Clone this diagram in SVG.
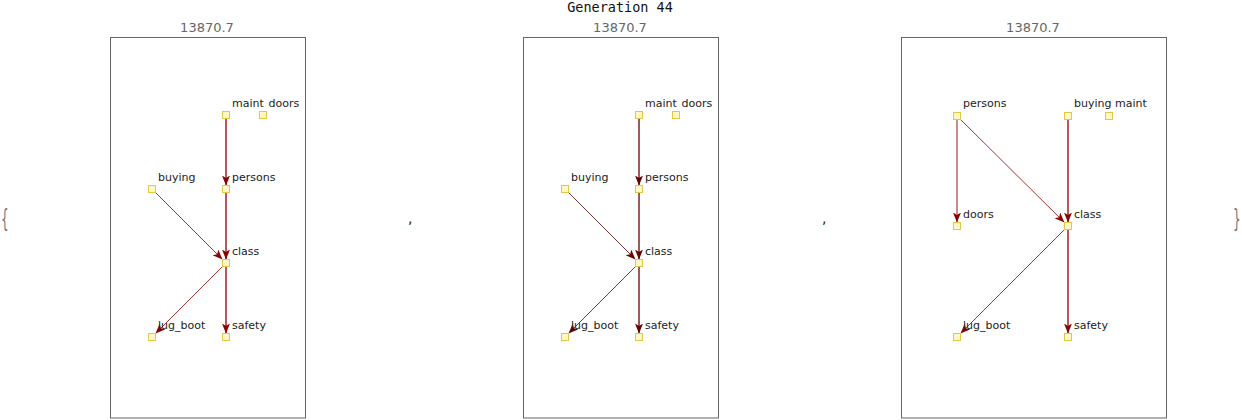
<svg xmlns="http://www.w3.org/2000/svg" width="1242" height="420" viewBox="0 0 1242 420">
<style>
.frame{fill:none;stroke:#666;stroke-width:1}
.node{fill:#fff8c4;stroke:#e2c84a;stroke-width:1}
.lbl{font-family:"DejaVu Sans",sans-serif;font-size:11px;fill:#222}
.score{font-family:"DejaVu Sans",sans-serif;font-size:13px;fill:#666;text-anchor:middle}
.title{font-family:"DejaVu Sans Mono",monospace;font-size:13.5px;fill:#111;text-anchor:middle}
.punct{font-family:"DejaVu Sans",sans-serif;font-size:14px;fill:#222}
.brace{font-family:"DejaVu Sans",sans-serif;font-size:24px;fill:#777}
.e1{stroke:#8b0000;stroke-width:1.3;fill:none}
.t1{stroke:#8b0000;stroke-width:0.8;fill:none}
.e2{stroke:#6a0000;stroke-width:1.3;fill:none}
.t2{stroke:#5a0000;stroke-width:0.8;fill:none}
.e3{stroke:#cc8c8c;stroke-width:2;fill:none}
</style>
<defs>
<marker id="a1" markerUnits="userSpaceOnUse" markerWidth="12" markerHeight="10" refX="10" refY="4" orient="auto"><path d="M0,0 L10,4 L0,8 L2.5,4 z" fill="#8b0000"/></marker>
<marker id="a2" markerUnits="userSpaceOnUse" markerWidth="12" markerHeight="10" refX="10" refY="4" orient="auto"><path d="M0,0 L10,4 L0,8 L2.5,4 z" fill="#6a0000"/></marker>
</defs>
<text class="title" x="620" y="12">Generation 44</text>
<text class="brace" x="0" y="227" transform="translate(1,0) scale(0.5,1)">{</text>
<text class="brace" x="0" y="227" transform="translate(1233,0) scale(0.5,1)">}</text>
<text class="punct" x="408" y="223">,</text>
<text class="punct" x="822" y="223">,</text>

<!-- Panel 1 -->
<g id="panel1">
<text class="score" x="207" y="32">13870.7</text>
<rect class="frame" x="110.5" y="37.5" width="195" height="380.5"/>
</g>
<g id="p1-edges">
<line class="e1" x1="226" y1="119" x2="226" y2="185.5" marker-end="url(#a1)"/>
<line class="e1" x1="226" y1="193" x2="226" y2="259.5" marker-end="url(#a1)"/>
<line class="t1" x1="155" y1="192" x2="222.5" y2="259.5" marker-end="url(#a1)"/>
<line class="t1" x1="223" y1="266" x2="155.5" y2="333.5" marker-end="url(#a1)"/>
<line class="e1" x1="226" y1="267" x2="226" y2="333.5" marker-end="url(#a1)"/>
</g>
<g id="p1-maint"><rect class="node" x="222.5" y="111.5" width="7" height="7"/><text class="lbl" x="232" y="107">maint</text></g>
<g id="p1-doors"><rect class="node" x="259.5" y="111.5" width="7" height="7"/><text class="lbl" x="268.5" y="107">doors</text></g>
<g id="p1-buying"><rect class="node" x="148.5" y="185.5" width="7" height="7"/><text class="lbl" x="158" y="181">buying</text></g>
<g id="p1-persons"><rect class="node" x="222.5" y="185.5" width="7" height="7"/><text class="lbl" x="232" y="181">persons</text></g>
<g id="p1-class"><rect class="node" x="222.5" y="259.5" width="7" height="7"/><text class="lbl" x="232" y="255">class</text></g>
<g id="p1-lug_boot"><rect class="node" x="148.5" y="333.5" width="7" height="7"/><text class="lbl" x="158" y="329">lug_boot</text></g>
<g id="p1-safety"><rect class="node" x="222.5" y="333.5" width="7" height="7"/><text class="lbl" x="232" y="329">safety</text></g>

<!-- Panel 2 -->
<g id="panel2">
<text class="score" x="620" y="32">13870.7</text>
<rect class="frame" x="523.5" y="37.5" width="195" height="380.5"/>
</g>
<g id="p2-edges">
<line class="e2" x1="639" y1="119" x2="639" y2="185.5" marker-end="url(#a2)"/>
<line class="e2" x1="639" y1="193" x2="639" y2="259.5" marker-end="url(#a2)"/>
<line class="t2" x1="568" y1="192" x2="635.5" y2="259.5" marker-end="url(#a2)"/>
<line class="t2" x1="636" y1="266" x2="568.5" y2="333.5" marker-end="url(#a2)"/>
<line class="e2" x1="639" y1="267" x2="639" y2="333.5" marker-end="url(#a2)"/>
</g>
<g id="p2-maint"><rect class="node" x="635.5" y="111.5" width="7" height="7"/><text class="lbl" x="645" y="107">maint</text></g>
<g id="p2-doors"><rect class="node" x="672.5" y="111.5" width="7" height="7"/><text class="lbl" x="681.5" y="107">doors</text></g>
<g id="p2-buying"><rect class="node" x="561.5" y="185.5" width="7" height="7"/><text class="lbl" x="571" y="181">buying</text></g>
<g id="p2-persons"><rect class="node" x="635.5" y="185.5" width="7" height="7"/><text class="lbl" x="645" y="181">persons</text></g>
<g id="p2-class"><rect class="node" x="635.5" y="259.5" width="7" height="7"/><text class="lbl" x="645" y="255">class</text></g>
<g id="p2-lug_boot"><rect class="node" x="561.5" y="333.5" width="7" height="7"/><text class="lbl" x="571" y="329">lug_boot</text></g>
<g id="p2-safety"><rect class="node" x="635.5" y="333.5" width="7" height="7"/><text class="lbl" x="645" y="329">safety</text></g>

<!-- Panel 3 -->
<g id="panel3">
<text class="score" x="1033" y="32">13870.7</text>
<rect class="frame" x="901.5" y="37.5" width="265" height="380.5"/>
</g>
<g id="p3-edges">
<line class="e3" x1="957" y1="120" x2="957" y2="222.5" marker-end="url(#a1)"/>
<line class="t1" x1="960" y1="119" x2="1064.5" y2="222.5" marker-end="url(#a1)"/>
<line class="e1" x1="1068" y1="120" x2="1068" y2="222.5" marker-end="url(#a1)"/>
<line class="t1" x1="1065" y1="229" x2="960.5" y2="333.5" marker-end="url(#a1)"/>
<line class="e1" x1="1068" y1="230" x2="1068" y2="333.5" marker-end="url(#a1)"/>
</g>
<g id="p3-persons"><rect class="node" x="953.5" y="112.5" width="7" height="7"/><text class="lbl" x="963" y="107">persons</text></g>
<g id="p3-buying"><rect class="node" x="1064.5" y="112.5" width="7" height="7"/><text class="lbl" x="1074" y="107">buying</text></g>
<g id="p3-maint"><rect class="node" x="1105.5" y="112.5" width="7" height="7"/><text class="lbl" x="1115" y="107">maint</text></g>
<g id="p3-doors"><rect class="node" x="953.5" y="222.5" width="7" height="7"/><text class="lbl" x="963" y="218">doors</text></g>
<g id="p3-class"><rect class="node" x="1064.5" y="222.5" width="7" height="7"/><text class="lbl" x="1074" y="218">class</text></g>
<g id="p3-lug_boot"><rect class="node" x="953.5" y="333.5" width="7" height="7"/><text class="lbl" x="963" y="329">lug_boot</text></g>
<g id="p3-safety"><rect class="node" x="1064.5" y="333.5" width="7" height="7"/><text class="lbl" x="1074" y="329">safety</text></g>
</svg>
